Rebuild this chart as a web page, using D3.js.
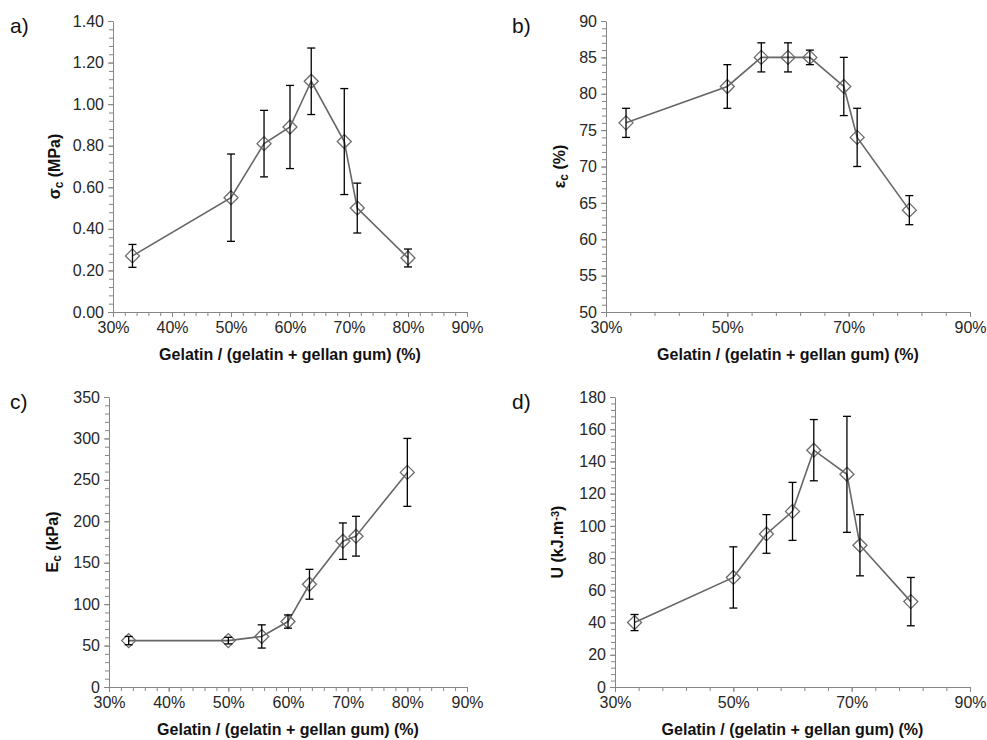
<!DOCTYPE html>
<html><head>
<meta charset="utf-8">
<script src="https://d3js.org/d3.v7.min.js"></script>
<style>
  body { margin: 0; background: #fff; }
  svg { font-family: "Liberation Sans", Arial, sans-serif; }
  .axis path, .axis line { stroke: #868686; }
  .axis text { fill: #262626; font-size: 16px; }
  .title { font-weight: bold; font-size: 16px; fill: #111; }
  .panel-label { font-size: 21px; fill: #111; }
</style>
</head>
<body>
<svg id="chart" width="987" height="740"></svg>
<script>
// gelatin fraction of the blend (%)
const gelatinPct = [33.3, 50, 55.6, 60, 63.6, 69.2, 71.4, 80];

// a) compressive stress (MPa)
const stress    = [0.27, 0.55, 0.81, 0.89, 1.11, 0.82, 0.50, 0.26];
const stressErr = [0.055, 0.21, 0.16, 0.20, 0.16, 0.255, 0.12, 0.043];

// b) strain at failure (%)
const strain    = [76, 81, 85, 85, 85, 81, 74, 64];
const strainErr = [2, 3, 2, 2, 1, 4, 4, 2];

// c) compressive modulus (kPa)
const modulus    = [56, 56, 61, 79, 124, 176, 182, 259];
const modulusErr = [5, 4, 14, 8, 18, 22, 24, 41];

// d) toughness (kJ.m-3)
const tough    = [40, 68, 95, 109, 147, 132, 88, 53];
const toughErr = [5, 19, 12, 18, 19, 36, 19, 15];

const svg = d3.select("#chart");

const panels = [
  { label: "a)", y: stress, err: stressErr, yMax: 1.4, yStep: 0.2, yMinor: 0.04, yMin: 0, yFmt: d3.format(".2f"),
    xStep: 10, xMinor: 2,
    x0: 113, x1: 467, top: 21, bottom: 312, lx: 10, ly: 33, ytx: 60,
    yTitle: [["σ", 0], ["c", 1], [" (MPa)", 0]] },
  { label: "b)", y: strain, err: strainErr, yMax: 90, yStep: 5, yMinor: 1, yMin: 50, yFmt: d3.format("d"),
    xStep: 20, xMinor: 4,
    x0: 606, x1: 970, top: 21, bottom: 312, lx: 512, ly: 33, ytx: 565,
    yTitle: [["ε", 0], ["c", 1], [" (%)", 0]] },
  { label: "c)", y: modulus, err: modulusErr, yMax: 350, yStep: 50, yMinor: 10, yMin: 0, yFmt: d3.format("d"),
    xStep: 10, xMinor: 2,
    x0: 109, x1: 467, top: 397, bottom: 687, lx: 10, ly: 409, ytx: 58,
    yTitle: [["E", 0], ["c", 1], [" (kPa)", 0]] },
  { label: "d)", y: tough, err: toughErr, yMax: 180, yStep: 20, yMinor: 4, yMin: 0, yFmt: d3.format("d"),
    xStep: 20, xMinor: 4,
    x0: 615, x1: 970, top: 397, bottom: 687, lx: 512, ly: 409, ytx: 563,
    yTitle: [["U (kJ.m", 0], ["-3", -1], [")", 0]] }
];

panels.forEach(p => {
  const x = d3.scaleLinear().domain([30, 90]).range([p.x0, p.x1]);
  const y = d3.scaleLinear().domain([p.yMin, p.yMax]).range([p.bottom, p.top]);
  const g = svg.append("g");

  // minor ticks first, then major axis on top
  const yMinorTicks = d3.range(p.yMin, p.yMax + p.yMinor / 2, p.yMinor);
  const xMinorTicks = d3.range(30, 90 + p.xMinor / 2, p.xMinor);

  g.append("g").attr("class", "axis")
    .attr("transform", `translate(${p.x0},0)`)
    .call(d3.axisLeft(y).tickValues(yMinorTicks).tickSize(4).tickFormat(""))
    .select(".domain").remove();
  g.append("g").attr("class", "axis")
    .attr("transform", `translate(0,${p.bottom})`)
    .call(d3.axisBottom(x).tickValues(xMinorTicks).tickSize(4).tickFormat(""))
    .select(".domain").remove();

  const yMajor = d3.range(p.yMin, p.yMax + p.yStep / 2, p.yStep);
  g.append("g").attr("class", "axis")
    .attr("transform", `translate(${p.x0},0)`)
    .call(d3.axisLeft(y).tickValues(yMajor).tickSize(5).tickSizeOuter(0).tickPadding(4).tickFormat(p.yFmt));

  const xMajor = d3.range(30, 90 + p.xStep / 2, p.xStep);
  g.append("g").attr("class", "axis")
    .attr("transform", `translate(0,${p.bottom})`)
    .call(d3.axisBottom(x).tickValues(xMajor).tickSize(5).tickSizeOuter(0).tickPadding(5).tickFormat(d => d + "%"));

  const pts = gelatinPct.map((v, i) => ({ x: v, y: p.y[i], e: p.err[i] }));

  // connecting line
  g.append("path")
    .datum(pts)
    .attr("fill", "none")
    .attr("stroke", "#666")
    .attr("stroke-width", 1.6)
    .attr("d", d3.line().x(d => x(d.x)).y(d => y(d.y)));

  // diamond markers
  g.selectAll("path.marker").data(pts)
    .join("path")
    .attr("class", "marker")
    .attr("fill", "none")
    .attr("stroke", "#6a6a6a")
    .attr("stroke-width", 1.3)
    .attr("d", d => {
      const cx = x(d.x), cy = y(d.y), r = 7;
      return `M${cx},${cy - r}L${cx + r},${cy}L${cx},${cy + r}L${cx - r},${cy}Z`;
    });

  // error bars
  const eb = g.selectAll("g.err").data(pts).join("g").attr("class", "err")
    .attr("stroke", "#000").attr("stroke-width", 1.3);
  eb.append("line")
    .attr("x1", d => x(d.x)).attr("x2", d => x(d.x))
    .attr("y1", d => y(d.y + d.e)).attr("y2", d => y(d.y - d.e));
  eb.append("line")
    .attr("x1", d => x(d.x) - 4).attr("x2", d => x(d.x) + 4)
    .attr("y1", d => y(d.y + d.e)).attr("y2", d => y(d.y + d.e));
  eb.append("line")
    .attr("x1", d => x(d.x) - 4).attr("x2", d => x(d.x) + 4)
    .attr("y1", d => y(d.y - d.e)).attr("y2", d => y(d.y - d.e));

  // titles
  g.append("text").attr("class", "title")
    .attr("x", (p.x0 + p.x1) / 2).attr("y", p.bottom + 48)
    .attr("text-anchor", "middle")
    .text("Gelatin / (gelatin + gellan gum) (%)");

  const yt = g.append("text").attr("class", "title")
    .attr("text-anchor", "middle")
    .attr("transform", `translate(${p.ytx},${(p.top + p.bottom) / 2}) rotate(-90)`);
  p.yTitle.forEach(([s, shift]) => {
    const t = yt.append("tspan").text(s);
    if (shift === 1) t.attr("baseline-shift", "-25%").attr("font-size", "12px");
    if (shift === -1) t.attr("baseline-shift", "40%").attr("font-size", "11px");
  });

  svg.append("text").attr("class", "panel-label")
    .attr("x", p.lx).attr("y", p.ly).text(p.label);
});
</script>
</body>
</html>
